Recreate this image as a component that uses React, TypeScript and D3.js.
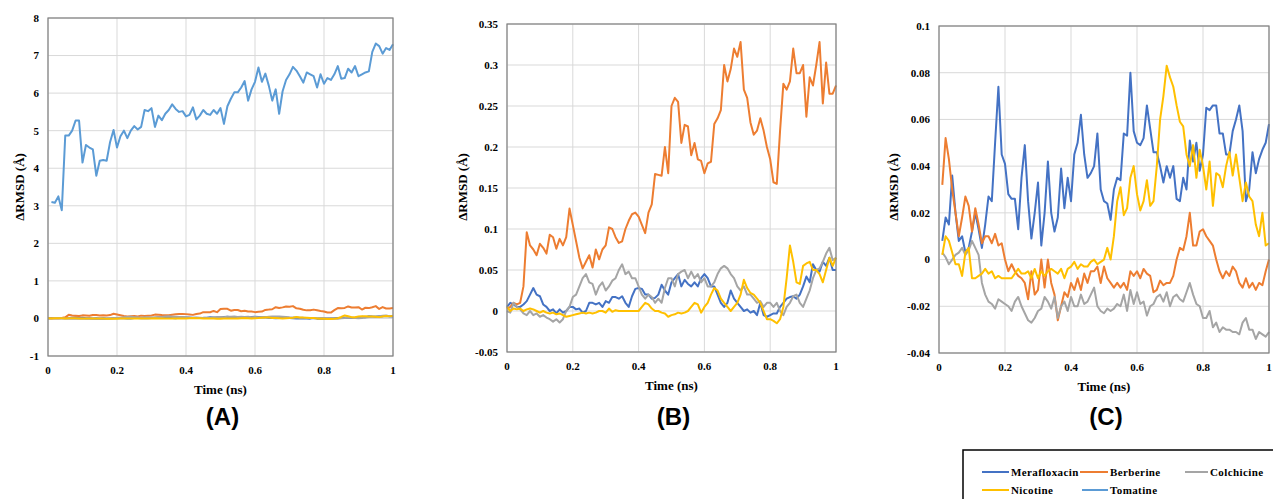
import React from "react";
import * as d3 from "d3";

const width = 1273;
const height = 499;

const seriesNames = ["Merafloxacin", "Berberine", "Colchicine", "Nicotine", "Tomatine"];
const seriesColors = ["#4472C4", "#ED7D31", "#A5A5A5", "#FFC000", "#5B9BD5"];

const timeTicks = [0, 0.2, 0.4, 0.6, 0.8, 1];
const ticksA = [-1, 0, 1, 2, 3, 4, 5, 6, 7, 8];
const ticksB = [-0.05, 0, 0.05, 0.1, 0.15, 0.2, 0.25, 0.3, 0.35];
const ticksC = [-0.04, -0.02, 0, 0.02, 0.04, 0.06, 0.08, 0.1];

// panel B (also drawn in A), samples 0 .. 1 ns
const meraB = [
  0.005, 0.01, 0.008, 0.005, 0.005, 0.008, 0.012, 0.02, 0.028, 0.02,
  0.018, 0.008, 0.005, 0.0, 0.002, -0.003, 0.002, -0.002, 0.0, 0.005,
  0.005, 0.002, 0.003, -0.002, 0.0, 0.01, 0.01, 0.008, 0.01, 0.005,
  0.012, 0.01, 0.017, 0.017, 0.015, 0.018, 0.01, 0.005, 0.018, 0.027,
  0.028, 0.027, 0.02, 0.02, 0.015, 0.016, 0.02, 0.032, 0.025, 0.02,
  0.035, 0.04, 0.045, 0.03, 0.038, 0.033, 0.03, 0.035, 0.03, 0.04,
  0.045, 0.04, 0.03, 0.03, 0.02, 0.01, 0.005, 0.01, 0.025, 0.015,
  0.01, 0.005, 0.0, 0.002, -0.002, 0.0, -0.005, 0.01, -0.005, -0.007,
  -0.005, -0.003, -0.003, 0.005, 0.01, 0.015, 0.017, 0.018, 0.015, 0.02,
  0.03, 0.042, 0.035, 0.057, 0.05, 0.048, 0.06, 0.055, 0.065, 0.05,
  0.05,
];
const berbB = [
  0.003, 0.005, 0.01, 0.008, 0.01, 0.03, 0.096, 0.08, 0.075, 0.068,
  0.082, 0.077, 0.07, 0.093, 0.09, 0.076, 0.088, 0.08, 0.09, 0.125,
  0.105, 0.085, 0.065, 0.052, 0.06, 0.068, 0.053, 0.075, 0.063, 0.075,
  0.08, 0.102, 0.1, 0.09, 0.083, 0.085, 0.1, 0.11, 0.118, 0.12,
  0.115, 0.105, 0.095, 0.12, 0.13, 0.167, 0.166, 0.165, 0.2, 0.168,
  0.25, 0.26, 0.255, 0.205, 0.227, 0.225, 0.19, 0.205, 0.185, 0.183,
  0.168, 0.18, 0.182, 0.228, 0.235, 0.245, 0.3, 0.28, 0.295, 0.32,
  0.31, 0.328, 0.27, 0.26, 0.23, 0.215, 0.22, 0.235, 0.22, 0.2,
  0.185, 0.157, 0.155, 0.22, 0.277, 0.27, 0.28, 0.32, 0.29, 0.29,
  0.3, 0.237, 0.285, 0.275, 0.3, 0.328, 0.253, 0.303, 0.265, 0.265,
  0.275,
];
const colchB = [
  0.0, -0.002, 0.01, 0.005, 0.002, -0.003, -0.005, 0.0, -0.005, -0.003,
  -0.007, -0.005, -0.008, -0.01, -0.013, -0.01, -0.014, -0.01, 0.0, 0.005,
  0.017, 0.02, 0.03, 0.04, 0.045, 0.035, 0.033, 0.02, 0.03, 0.035,
  0.025, 0.03, 0.037, 0.04, 0.05, 0.057, 0.045, 0.048, 0.04, 0.04,
  0.03, 0.02, 0.015, 0.02, 0.017, 0.01, 0.015, 0.01, 0.028, 0.04,
  0.04, 0.03, 0.045, 0.048, 0.05, 0.04, 0.048, 0.04, 0.045, 0.035,
  0.04, 0.03, 0.03, 0.035, 0.045, 0.052, 0.055, 0.052, 0.045, 0.04,
  0.03, 0.025, 0.03, 0.02, 0.02, 0.015, 0.01, 0.012, 0.005, 0.01,
  0.01, 0.005, 0.01, 0.0, -0.005, 0.005, 0.01, 0.018, 0.02, 0.01,
  0.005, 0.015, 0.025, 0.04, 0.05, 0.052, 0.06, 0.07, 0.077, 0.062,
  0.065,
];
const nicoB = [
  0.005, 0.0, 0.003, 0.002, 0.003, 0.0, 0.002, 0.003, 0.002, 0.0,
  -0.002, 0.0, -0.002, -0.003, -0.002, -0.004, -0.003, -0.005, -0.007, -0.006,
  -0.005, -0.004, -0.003, -0.002, -0.003, -0.002, -0.003, -0.002, 0.0, 0.0,
  -0.002, 0.003, -0.001, 0.001, 0.0, 0.0, 0.0, 0.0, 0.0, 0.0,
  0.0, 0.005, 0.01, 0.008, 0.003, 0.0, 0.0, -0.002, -0.003, -0.007,
  -0.005, -0.004, -0.002, -0.003, -0.002, 0.0, 0.005, 0.01, 0.008, -0.002,
  0.005, 0.01, 0.02, 0.028, 0.025, 0.015, 0.01, 0.005, 0.0, 0.005,
  0.01, 0.02, 0.038, 0.028, 0.022, 0.02, 0.015, 0.01, 0.0, -0.01,
  -0.01, -0.012, -0.015, -0.01, 0.005, 0.04, 0.08, 0.06, 0.035, 0.033,
  0.055, 0.058, 0.06, 0.05, 0.05, 0.045, 0.035, 0.05, 0.065, 0.055,
  0.065,
];

// panel A only, samples 0.01 .. 1 ns
const tomaA = [
  3.1, 3.08, 3.25, 2.88, 4.87, 4.87, 5.0, 5.27, 5.27, 4.15,
  4.62, 4.55, 4.5, 3.8, 4.2, 4.22, 4.2, 4.7, 5.02, 4.55,
  4.85, 5.0, 4.8, 5.0, 5.12, 5.03, 5.1, 5.55, 5.52, 5.6,
  5.1, 5.4, 5.28, 5.45, 5.55, 5.7, 5.58, 5.5, 5.52, 5.38,
  5.42, 5.62, 5.3, 5.4, 5.55, 5.45, 5.42, 5.55, 5.45, 5.6,
  5.18, 5.65, 5.85, 6.02, 6.02, 6.15, 6.32, 5.8, 6.1, 6.3,
  6.68, 6.3, 6.52, 6.2, 5.8, 6.1, 5.45, 6.05, 6.35, 6.5,
  6.7, 6.6, 6.45, 6.28, 6.55, 6.5, 6.45, 6.15, 6.5, 6.25,
  6.4, 6.35, 6.5, 6.72, 6.38, 6.4, 6.65, 6.55, 6.72, 6.45,
  6.5, 6.55, 6.58, 7.1, 7.32, 7.25, 7.05, 7.2, 7.15, 7.3,
];

// panel C, samples 0.01 .. 1 ns
const meraC = [
  0.008, 0.018, 0.015, 0.036, 0.02, 0.008, 0.01, 0.003, 0.005, 0.012,
  0.02, 0.013, 0.005, 0.015, 0.027, 0.025, 0.05, 0.074, 0.045, 0.041,
  0.028, 0.026, 0.026, 0.013, 0.035, 0.049, 0.025, 0.009, 0.02, 0.033,
  0.006, 0.02, 0.042, 0.02, 0.012, 0.018, 0.039, 0.022, 0.035, 0.025,
  0.045, 0.05, 0.062, 0.045, 0.035, 0.037, 0.04, 0.054, 0.03, 0.025,
  0.024, 0.017, 0.03, 0.035, 0.034, 0.054, 0.053, 0.08, 0.055, 0.05,
  0.049, 0.052, 0.066, 0.056, 0.046, 0.046, 0.04, 0.033, 0.04, 0.035,
  0.04, 0.026, 0.025, 0.035, 0.03, 0.051, 0.042, 0.05, 0.038, 0.045,
  0.065, 0.064, 0.066, 0.066, 0.054, 0.054, 0.045, 0.045, 0.055, 0.06,
  0.066, 0.055, 0.025, 0.03, 0.046, 0.037, 0.043, 0.047, 0.05, 0.058,
];
const berbC = [
  0.032, 0.052, 0.043, 0.03, 0.02, 0.01, 0.018, 0.027, 0.023, 0.012,
  0.022, 0.015, 0.007, 0.01, 0.01, 0.007, 0.011, 0.006, 0.007, 0.0,
  -0.005, -0.002, -0.005, -0.007, -0.008, -0.01, -0.017, -0.005, -0.015, -0.013,
  0.0, -0.012, 0.0, -0.01, -0.015, -0.026, -0.02, -0.014, -0.016, -0.01,
  -0.013, -0.008, -0.013, -0.006, -0.01, -0.005, -0.005, -0.003, -0.01, -0.003,
  -0.008, -0.01, -0.012, -0.01, -0.012, -0.01, -0.013, -0.005, -0.007, -0.005,
  -0.008, -0.004, -0.006, -0.007, -0.014, -0.013, -0.009, -0.011, -0.01, -0.01,
  -0.007, 0.0, 0.005, 0.004, 0.01, 0.02, 0.006, 0.006, 0.012, 0.013,
  0.01, 0.008, 0.006, 0.0, -0.005, -0.008, -0.005, -0.007, -0.003, -0.005,
  -0.01, -0.012, -0.008, -0.012, -0.01, -0.013, -0.01, -0.011, -0.005, 0.0,
];
const colchC = [
  0.003, 0.001, -0.002, 0.0, 0.002, 0.003, 0.005, 0.002, 0.004, 0.008,
  0.005, 0.002, -0.01, -0.015, -0.018, -0.019, -0.021, -0.017, -0.018, -0.019,
  -0.02, -0.022, -0.018, -0.016, -0.02, -0.023, -0.026, -0.027, -0.025, -0.022,
  -0.021, -0.016, -0.018, -0.021, -0.016, -0.025, -0.02, -0.018, -0.022, -0.016,
  -0.02, -0.02, -0.015, -0.019, -0.018, -0.015, -0.012, -0.02, -0.022, -0.023,
  -0.021, -0.022, -0.021, -0.019, -0.02, -0.015, -0.022, -0.013, -0.019, -0.014,
  -0.019, -0.018, -0.024, -0.02, -0.019, -0.016, -0.015, -0.018, -0.014, -0.02,
  -0.016, -0.015, -0.017, -0.018, -0.014, -0.01, -0.015, -0.019, -0.02, -0.025,
  -0.025, -0.022, -0.029, -0.027, -0.031, -0.029, -0.03, -0.03, -0.031, -0.031,
  -0.032, -0.027, -0.025, -0.03, -0.03, -0.034, -0.031, -0.032, -0.033, -0.031,
];
const nicoC = [
  0.002, 0.01, 0.008, 0.003, -0.002, -0.002, -0.007, 0.003, 0.005, -0.008,
  -0.008, -0.007, -0.006, -0.004, -0.006, -0.005, -0.008, -0.007, -0.008, -0.008,
  -0.008, -0.008, -0.006, -0.004, -0.006, -0.006, -0.005, -0.008, -0.004, -0.008,
  -0.005, -0.007, -0.005, -0.004, -0.005, -0.006, -0.004, -0.008, -0.004, -0.003,
  -0.001, -0.004, -0.002, -0.003, -0.003, -0.001, 0.0, -0.002, -0.001, 0.0,
  0.005, 0.0, 0.01, 0.025, 0.031, 0.019, 0.022, 0.035, 0.04, 0.028,
  0.021, 0.025, 0.034, 0.023, 0.025, 0.04, 0.06, 0.07, 0.083, 0.078,
  0.074, 0.066, 0.059, 0.057, 0.045, 0.04, 0.049, 0.035, 0.047, 0.04,
  0.03, 0.042, 0.023, 0.037, 0.036, 0.031, 0.04, 0.046, 0.036, 0.045,
  0.035, 0.025, 0.033, 0.027, 0.025, 0.015, 0.01, 0.02, 0.006, 0.007,
];

// samples end at 1 ns, 0.01 ns apart
const toPoints = (vals: number[]) =>
  vals.map((v, i) => [1 - (vals.length - 1 - i) * 0.01, v] as [number, number]);

const serif = "'Liberation Serif', 'Times New Roman', serif";
const sans = "'Liberation Sans', Arial, sans-serif";

const fmt = (v: number) => String(+v.toFixed(2));

type PanelProps = {
  left: number;
  right: number;
  top: number;
  bottom: number;
  yTicks: number[];
  ylabelX: number;
  letter: string;
  lines: { values: number[]; color: string }[];
};

const Panel = ({ left, right, top, bottom, yTicks, ylabelX, letter, lines }: PanelProps) => {
  const x = d3.scaleLinear().domain([0, 1]).range([left, right]);
  const y = d3.scaleLinear().domain(d3.extent(yTicks) as [number, number]).range([bottom, top]);
  const line = d3
    .line<[number, number]>()
    .x((d) => x(d[0]))
    .y((d) => y(d[1]));
  const midX = (left + right) / 2;

  return (
    <g>
      {yTicks.map((t) => (
        <line key={`h${t}`} x1={left} x2={right} y1={y(t)} y2={y(t)} stroke="#d9d9d9" strokeWidth={1} />
      ))}
      {timeTicks.map((t) => (
        <line key={`v${t}`} x1={x(t)} x2={x(t)} y1={top} y2={bottom} stroke="#d9d9d9" strokeWidth={1} />
      ))}
      {lines.map((l, i) => (
        <path
          key={i}
          d={line(toPoints(l.values)) || ""}
          fill="none"
          stroke={l.color}
          strokeWidth={2}
          strokeLinejoin="round"
        />
      ))}
      <rect x={left} y={top} width={right - left} height={bottom - top} fill="none" stroke="#808080" strokeWidth={1.2} />
      {yTicks.map((t) => (
        <text
          key={`yt${t}`}
          x={left - 9}
          y={y(t)}
          dy="0.35em"
          textAnchor="end"
          fontFamily={serif}
          fontWeight="bold"
          fontSize={11}
          fill="#000"
        >
          {fmt(t)}
        </text>
      ))}
      {timeTicks.map((t) => (
        <text
          key={`xt${t}`}
          x={x(t)}
          y={bottom + 18}
          textAnchor="middle"
          fontFamily={serif}
          fontWeight="bold"
          fontSize={11}
          fill="#000"
        >
          {fmt(t)}
        </text>
      ))}
      <text
        x={midX}
        y={bottom + 38}
        textAnchor="middle"
        fontFamily={serif}
        fontWeight="bold"
        fontSize={13}
        fill="#000"
      >
        Time (ns)
      </text>
      <text
        transform={`translate(${ylabelX},187) rotate(-90)`}
        dy="0.35em"
        textAnchor="middle"
        fontFamily={serif}
        fontWeight="bold"
        fontSize={13}
        fill="#000"
      >
        ΔRMSD (Å)
      </text>
      <text
        x={midX + 2}
        y={425}
        textAnchor="middle"
        fontFamily={sans}
        fontWeight="bold"
        fontSize={24}
        fill="#000"
      >
        {letter}
      </text>
    </g>
  );
};

const legendRows = [
  [
    { i: 0, x: 982, tx: 1011 },
    { i: 1, x: 1080, tx: 1110 },
    { i: 2, x: 1185, tx: 1210 },
  ],
  [
    { i: 3, x: 982, tx: 1011 },
    { i: 4, x: 1082, tx: 1110 },
  ],
];

const App = () => {
  const bLines = [meraB, berbB, colchB, nicoB].map((values, i) => ({ values, color: seriesColors[i] }));
  const aLines = [...bLines, { values: tomaA, color: seriesColors[4] }];
  const cLines = [meraC, berbC, colchC, nicoC].map((values, i) => ({ values, color: seriesColors[i] }));

  return (
    <svg
      width={width}
      height={height}
      style={{ position: "absolute", left: 0, top: 0, background: "#fff" }}
    >
      <rect width={width} height={height} fill="#fff" />
      <Panel left={48} right={393} top={18} bottom={356} yTicks={ticksA} ylabelX={19} letter="(A)" lines={aLines} />
      <Panel left={507} right={836} top={24} bottom={352} yTicks={ticksB} ylabelX={462} letter="(B)" lines={bLines} />
      <Panel left={939} right={1269} top={26} bottom={353} yTicks={ticksC} ylabelX={893} letter="(C)" lines={cLines} />

      <rect x={963} y={450} width={330} height={80} fill="#fff" stroke="#000" strokeWidth={1.5} />
      {legendRows.map((row, r) =>
        row.map((it) => (
          <g key={it.i}>
            <line
              x1={it.x}
              x2={it.tx - 2}
              y1={472 + r * 18}
              y2={472 + r * 18}
              stroke={seriesColors[it.i]}
              strokeWidth={2}
            />
            <text
              x={it.tx}
              y={472 + r * 18}
              dy="0.35em"
              fontFamily={serif}
              fontWeight="bold"
              fontSize={11}
              letterSpacing={0.4}
              fill="#000"
            >
              {seriesNames[it.i]}
            </text>
          </g>
        ))
      )}
    </svg>
  );
};

export default App;
